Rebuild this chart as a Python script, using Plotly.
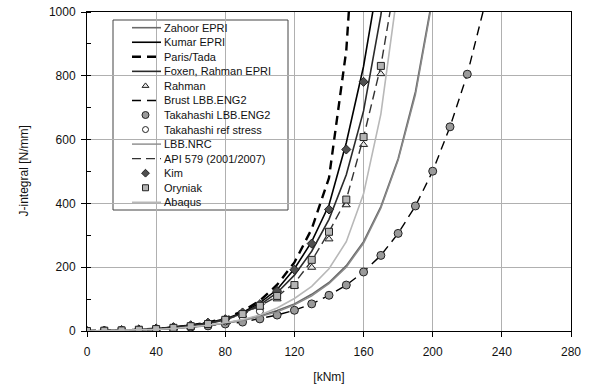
import plotly.graph_objects as go

# Moment [kNm] sampled every 10 kNm starting at 0
zahoor_epri = [0, 1, 2, 3, 5, 8, 12, 17, 25, 34, 47, 64, 85, 115, 152, 205, 280, 390, 540, 750, 1050]
kumar_epri = [0, 1, 2, 4, 7, 11, 17, 26, 38, 58, 88, 130, 195, 280, 395, 590, 830, 1150]
paris_tada = [0, 1, 2, 4, 7, 11, 18, 27, 40, 62, 95, 145, 215, 320, 480, 880, 1700]
foxen_rahman_epri = [0, 1, 2, 4, 7, 11, 17, 25, 36, 55, 82, 120, 175, 250, 350, 490, 690, 990, 1400]
rahman = [0, 1, 2, 4, 6, 10, 15, 22, 33, 50, 75, 100, 140, 199, 288, 395, 584, 806]
brust_lbb_eng2 = [0, 1, 2, 3, 5, 8, 12, 16, 22, 28, 38, 50, 65, 85, 112, 144, 185, 237, 306, 392, 501, 640, 805, 1020]
takahashi_lbb_eng2 = [0, 1, 2, 3, 5, 8, 12, 16, 22, 28, 38, 50, 65, 85, 112, 144, 185, 237, 306, 392, 501, 640, 805]
takahashi_ref_stress = [0, 1, 2, 4, 6, 10, 15, 21, 30, 44, 62]
lbb_nrc = [0, 1, 2, 3, 5, 8, 12, 17, 24, 33, 45, 60, 82, 110, 148, 200, 275, 385, 535, 740, 1040]
api_579 = [0, 1, 2, 4, 6, 10, 15, 22, 35, 53, 79, 108, 150, 220, 311, 412, 608, 831, 1150]
kim = [0, 1, 3, 5, 8, 12, 18, 26, 37, 58, 84, 125, 192, 274, 381, 569, 781]
oryniak = [0, 1, 2, 4, 6, 10, 15, 22, 35, 53, 79, 110, 144, 223, 311, 412, 608, 831]
abaqus = [0, 1, 2, 3, 5, 8, 12, 18, 26, 36, 50, 72, 102, 140, 195, 280, 430, 680, 1080]

x_ticks = [0, 40, 80, 120, 160, 200, 240, 280]
y_ticks = [0, 200, 400, 600, 800, 1000]

FONT = "Liberation Sans"

# plot area in screen pixels (as in the reference); body margin is removed below
L, R, T, B = 87, 571, 12, 331
W, H = R - L, B - T


def px(x):
    return (x - L) / W


def py(y):
    return (B - y) / H


def xs(y):
    return [10 * i for i in range(len(y))]


fig = go.Figure()

entries = []


def line(name, y, color, width=1.5, dash="solid"):
    fig.add_trace(go.Scatter(x=xs(y), y=y, name=name, mode="lines", showlegend=False,
                             line=dict(color=color, width=width, dash=dash)))
    entries.append((name, "line", dict(color=color, width=width, dash=dash)))


def markers(name, y, symbol, fill, size=7, lc="#222"):
    fig.add_trace(go.Scatter(x=xs(y), y=y, name=name, mode="markers", showlegend=False,
                             marker=dict(symbol=symbol, size=size, color=fill,
                                         line=dict(color=lc, width=1))))
    entries.append((name, "marker", dict(symbol=symbol, size=size - 1, color=fill,
                                         line=dict(color=lc, width=1))))


line("Zahoor EPRI", zahoor_epri, "#6a6a6a", 1.6)
line("Kumar EPRI", kumar_epri, "#000000", 1.6)
line("Paris/Tada", paris_tada, "#000000", 2.4, "9px,6px")
line("Foxen, Rahman EPRI", foxen_rahman_epri, "#2a2a2a", 1.6)
markers("Rahman", rahman, "triangle-up", "#e8e8e8", 7)
line("Brust LBB.ENG2", brust_lbb_eng2, "#000000", 1.4, "9px,6px")
markers("Takahashi LBB.ENG2", takahashi_lbb_eng2, "circle", "#9a9a9a", 8)
markers("Takahashi ref stress", takahashi_ref_stress, "circle", "#ffffff", 7)
line("LBB.NRC", lbb_nrc, "#8a8a8a", 1.4)
line("API 579 (2001/2007)", api_579, "#333333", 1.4, "9px,5px")
markers("Kim", kim, "diamond", "#505050", 7)
markers("Oryniak", oryniak, "square", "#b4b4b4", 7)
line("Abaqus", abaqus, "#b8b8b8", 1.6)

# ---- hand-built legend (compact rows like the original) ----
shapes = [dict(type="rect", xref="paper", yref="paper",
               x0=px(113), x1=px(288), y0=py(210), y1=py(20),
               fillcolor="white", line=dict(color="#444", width=1), layer="between")]
annotations = []
row0, step = 27.7, 14.55
for i, (name, kind, st) in enumerate(entries):
    yc = row0 + i * step
    if kind == "line":
        shapes.append(dict(type="line", xref="paper", yref="paper",
                           x0=px(132), x1=px(161), y0=py(yc), y1=py(yc),
                           line=dict(color=st["color"], width=st["width"], dash=st["dash"]),
                           layer="above"))
    else:
        fig.add_trace(go.Scatter(x=[px(145.5)], y=[py(yc)], mode="markers",
                                 xaxis="x2", yaxis="y2", showlegend=False, hoverinfo="skip",
                                 marker=st))
    annotations.append(dict(text=name, xref="paper", yref="paper",
                            x=px(162), y=py(yc), xanchor="left", yanchor="middle",
                            showarrow=False, font=dict(size=11, color="#111", family=FONT)))

# y-axis title, placed where the original has it
annotations.append(dict(text="J-integral [N/mm]", xref="paper", yref="paper",
                        x=px(23), y=0.5, xanchor="center", yanchor="middle", textangle=-90,
                        showarrow=False, font=dict(size=12, color="#111", family=FONT)))

fig.update_layout(
    width=592, height=392,
    margin=dict(l=L, r=592 - R, t=T, b=392 - B),
    paper_bgcolor="white", plot_bgcolor="white",
    font=dict(family=FONT, size=12, color="#111"),
    showlegend=False,
    shapes=shapes,
    annotations=annotations,
    xaxis2=dict(overlaying="x", range=[0, 1], visible=False, fixedrange=True),
    yaxis2=dict(overlaying="y", range=[0, 1], visible=False, fixedrange=True),
)
fig.layout.xaxis.update(range=[0, 280], tickvals=x_ticks, ticktext=[str(v) for v in x_ticks],
                        showgrid=True, gridcolor="#b0b0b0", gridwidth=1,
                        showline=True, linecolor="black", linewidth=1, mirror=True,
                        ticks="outside", ticklen=5, tickcolor="black", zeroline=False,
                        automargin=False, tickfont=dict(family=FONT, size=12),
                        ticklabelstandoff=5, ticklabeloverflow="allow",
                        title=dict(text="[kNm]", standoff=14, font=dict(family=FONT, size=12)))
fig.layout.yaxis.update(range=[0, 1000], tickvals=y_ticks, ticktext=[str(v) for v in y_ticks],
                        showgrid=True, gridcolor="#b0b0b0", gridwidth=1,
                        showline=True, linecolor="black", linewidth=1, mirror=True,
                        ticks="outside", ticklen=5, tickcolor="black", zeroline=False,
                        automargin=False, tickfont=dict(family=FONT, size=12),
                        ticklabelstandoff=3, ticklabeloverflow="allow",
                        minor=dict(dtick=100, ticks="inside", ticklen=4, tickcolor="black", showgrid=False))

fig.write_html("out.html", config={"displayModeBar": False},
               post_script="document.body.style.margin='0';document.body.style.overflow='hidden';")
